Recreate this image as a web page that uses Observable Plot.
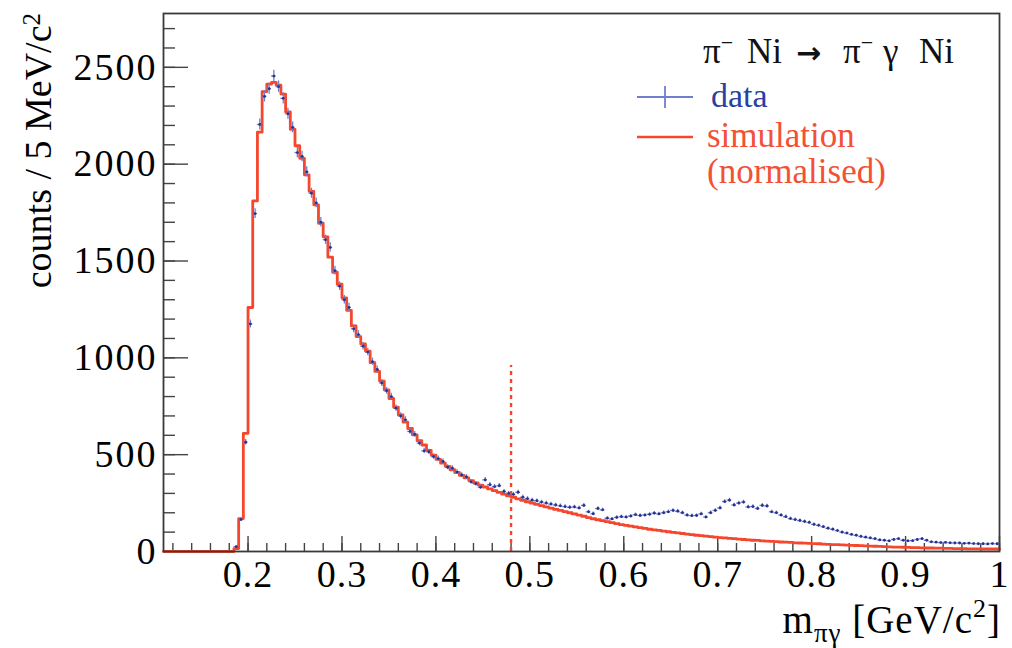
<!DOCTYPE html>
<html><head><meta charset="utf-8">
<script src="https://cdn.jsdelivr.net/npm/d3@7"></script>
<script src="https://cdn.jsdelivr.net/npm/@observablehq/plot@0.6"></script>
<style>body{margin:0;background:#fff}#chart{width:1012px;height:648px}</style>
</head><body><div id="chart"></div>
<script>
// histogram binning: 5 MeV bins from 0.11 to 1.0 GeV/c^2
const binStart = 0.11;
const binWidth = 0.005;

// simulation (normalised), counts per bin
const simCounts = [
  0,0,0,0,0,0,0,0,0,0,
  0,0,0,0,0,15,170,610,1260,1810,
  2165,2375,2413,2422,2408,2362,2270,2180,2095,2030,
  1945,1860,1790,1695,1625,1520,1442,1380,1310,1245,
  1165,1110,1072,1035,975,930,880,835,790,745,
  705,668,635,602,572,550,522,498,476,456,
  440,422,408,393,380,366,354,343,333,323,
  314,305,296,288,280,272,264,257,250,243,
  237,230,224,218,212,206,200,194,188,182,
  175,169,164,159,154,149,144,139,135,131,
  127,123,119,115,112,109,105,102,99,96,
  93,90,87,84,82,79,77,74,72,70,
  68,66,64,62,60,58,57,55,54,52,
  51,49,48,47,45,44,43,42,41,40,
  38,37,36,35,34,33,32,31,30,29,
  28,27,26,25,24,23,23,22,21,20,
  20,19,18,18,17,17,16,16,15,15,
  15,14,14,14,13,13,13,13
];

// measured data, counts per bin (null = empty bin)
const dataCounts = [
  null,null,null,null,null,null,null,null,null,null,
  null,null,null,null,null,25,165,564,1175,1745,
  2205,2350,2390,2455,2400,2340,2260,2190,2060,2040,
  1960,1850,1800,1700,1610,1570,1450,1370,1300,1260,
  1150,1120,1060,1030,980,940,870,830,800,740,
  700,680,620,605,560,520,515,490,480,465,
  435,430,410,395,385,360,350,332,370,345,
  335,340,310,300,295,306,280,273,265,262,
  255,250,245,240,236,232,228,230,225,238,
  205,195,222,215,172,168,176,180,178,183,
  190,186,188,192,198,194,200,205,212,208,
  200,188,185,186,194,178,200,212,225,258,
  265,240,250,255,230,232,222,238,235,205,
  200,188,180,170,165,160,155,150,140,135,
  128,120,115,108,100,95,88,84,78,74,
  70,66,60,58,55,62,66,58,55,56,
  62,66,58,50,48,46,47,45,44,44,
  42,43,41,40,40,39,41,40
];

const cutMass = 0.48;
const cutHeight = 960;
const xTicks = [0.2, 0.3, 0.4, 0.5, 0.6, 0.7, 0.8, 0.9, 1];
const xTickLabels = ["0.2", "0.3", "0.4", "0.5", "0.6", "0.7", "0.8", "0.9", "1"];
const yTicks = [0, 500, 1000, 1500, 2000, 2500];
const yTickLabels = ["0", "500", "1000", "1500", "2000", "2500"];
const xDomain = [0.11, 1.0];
const yDomain = [0, 2778];

const xMinor = d3.range(0.12, 1.0001, 0.02);
const yMinor = d3.range(0, 2701, 100);

const bins = simCounts.map((s, i) => {
  const lo = +(binStart + i * binWidth).toFixed(4);
  const hi = +(lo + binWidth).toFixed(4);
  return {lo, hi, mid: (lo + hi) / 2, sim: s, data: dataCounts[i]};
});
const simStep = bins.map(b => ({x: b.lo, y: b.sim}));
simStep.push({x: bins[bins.length - 1].hi, y: bins[bins.length - 1].sim});
const dataPts = bins.filter(b => b.data != null).map(b => ({...b, err: 0.6 * Math.sqrt(b.data)}));

const W = 1012, H = 648, ML = 163, MR = 13, MT = 13, MB = 97;
const innerW = W - ML - MR, innerH = H - MT - MB;

const RED = "#f4472d";
const BLUE_BAR = "#6f7fcc";
const BLUE_DOT = "#27328f";
const TICK = "#444";
const FONT = "'Liberation Serif', 'Times New Roman', serif";

const plot = Plot.plot({
  width: W, height: H,
  marginLeft: ML, marginRight: MR, marginTop: MT, marginBottom: MB,
  x: {domain: xDomain},
  y: {domain: yDomain},
  style: {fontFamily: FONT, fontSize: "38px", color: "black", background: "white"},
  marks: [
    // inward ticks (ROOT style)
    Plot.tickX(xMinor, {x: d => d, insetTop: innerH - 8, stroke: TICK, strokeWidth: 1.4}),
    Plot.tickX(xTicks, {x: d => d, insetTop: innerH - 15, stroke: TICK, strokeWidth: 1.4}),
    Plot.tickY(yMinor, {y: d => d, insetRight: innerW - 12, stroke: TICK, strokeWidth: 1.4}),
    Plot.tickY(yTicks, {y: d => d, insetRight: innerW - 25, stroke: TICK, strokeWidth: 1.4}),
    Plot.line(simStep, {x: "x", y: "y", curve: "step-after", stroke: RED, strokeWidth: 2.8}),
    Plot.ruleX([cutMass], {x: d => d, y1: 0, y2: cutHeight, stroke: RED, strokeWidth: 2.4, strokeDasharray: "4,4"}),
    Plot.ruleY(dataPts, {y: "data", x1: "lo", x2: "hi", stroke: BLUE_BAR, strokeWidth: 1.3}),
    Plot.ruleX(dataPts, {x: "mid", y1: d => d.data - d.err, y2: d => d.data + d.err, stroke: BLUE_BAR, strokeWidth: 1.3}),
    Plot.dot(dataPts, {x: "mid", y: "data", r: 1.4, fill: BLUE_DOT, stroke: null}),
    Plot.axisX(xTicks, {tickSize: 0, tickPadding: 9, tickFormat: (d, i) => xTickLabels[i], label: null, fontSize: 38, fill: "black"}),
    Plot.axisY(yTicks, {tickSize: 0, tickPadding: 6, tickFormat: (d, i) => yTickLabels[i], label: null, fontSize: 38, fill: "black"}),
    Plot.frame({stroke: "#3a3a3a", strokeWidth: 1.8})
  ]
});
document.getElementById("chart").appendChild(plot);

const svg = d3.select(plot);
// slightly wider digits, as in the reference
svg.selectAll('g[aria-label="y-axis tick label"] text').style("letter-spacing", "2px");
svg.selectAll('g[aria-label="x-axis tick label"] text').style("letter-spacing", "1px");

// axis titles and legend as real text inside the plot's SVG
const g = svg.append("g").attr("font-family", FONT).attr("text-anchor", "start");

const yl = g.append("text").attr("transform", "translate(51,13) rotate(-90)")
  .attr("text-anchor", "end").attr("font-size", 38).attr("fill", "black");
yl.append("tspan").text("counts / 5 MeV/c");
yl.append("tspan").attr("dy", "-0.45em").attr("font-size", 25).text("2");

const xl = g.append("text").attr("x", 1001).attr("y", 633)
  .attr("text-anchor", "end").attr("font-size", 39).attr("fill", "black").style("letter-spacing", "1px");
xl.append("tspan").text("m");
xl.append("tspan").attr("font-size", 27).attr("dy", 9).text("πγ");
xl.append("tspan").attr("dy", -9).text(" [GeV/c");
xl.append("tspan").attr("font-size", 26).attr("dy", -16).text("2");
xl.append("tspan").attr("dy", 16).text("]");

const leg = g.append("g");
const t = leg.append("text").attr("y", 63).attr("font-size", 35).attr("fill", "#111")
  .attr("text-anchor", "start");
t.append("tspan").attr("x", 703).text("π");
t.append("tspan").attr("dy", -13).attr("font-size", 22).text("−");
t.append("tspan").attr("dy", 13).attr("x", 747).text("Ni");
t.append("tspan").attr("x", 796).attr("font-family", "'DejaVu Sans', sans-serif").attr("font-weight", "bold").attr("font-size", 30).text("→");
t.append("tspan").attr("x", 843).text("π");
t.append("tspan").attr("dy", -13).attr("font-size", 22).text("−");
t.append("tspan").attr("dy", 13).attr("x", 883).text("γ");
t.append("tspan").attr("x", 919).text("Ni");

leg.append("line").attr("x1", 637).attr("x2", 693).attr("y1", 97).attr("y2", 97).attr("stroke", BLUE_BAR).attr("stroke-width", 1.8);
leg.append("line").attr("x1", 665).attr("x2", 665).attr("y1", 86).attr("y2", 108).attr("stroke", BLUE_BAR).attr("stroke-width", 1.8);
leg.append("text").attr("x", 711).attr("y", 107).attr("font-size", 34).attr("fill", "#2a3f9f").attr("text-anchor", "start").text("data");

leg.append("line").attr("x1", 637).attr("x2", 693).attr("y1", 137).attr("y2", 137).attr("stroke", RED).attr("stroke-width", 2.6);
leg.append("text").attr("x", 707).attr("y", 147).attr("font-size", 35).attr("fill", "#f25136").attr("text-anchor", "start").text("simulation");
leg.append("text").attr("x", 707).attr("y", 183).attr("font-size", 35).attr("fill", "#f25136").attr("text-anchor", "start").text("(normalised)");
</script>
</body></html>
